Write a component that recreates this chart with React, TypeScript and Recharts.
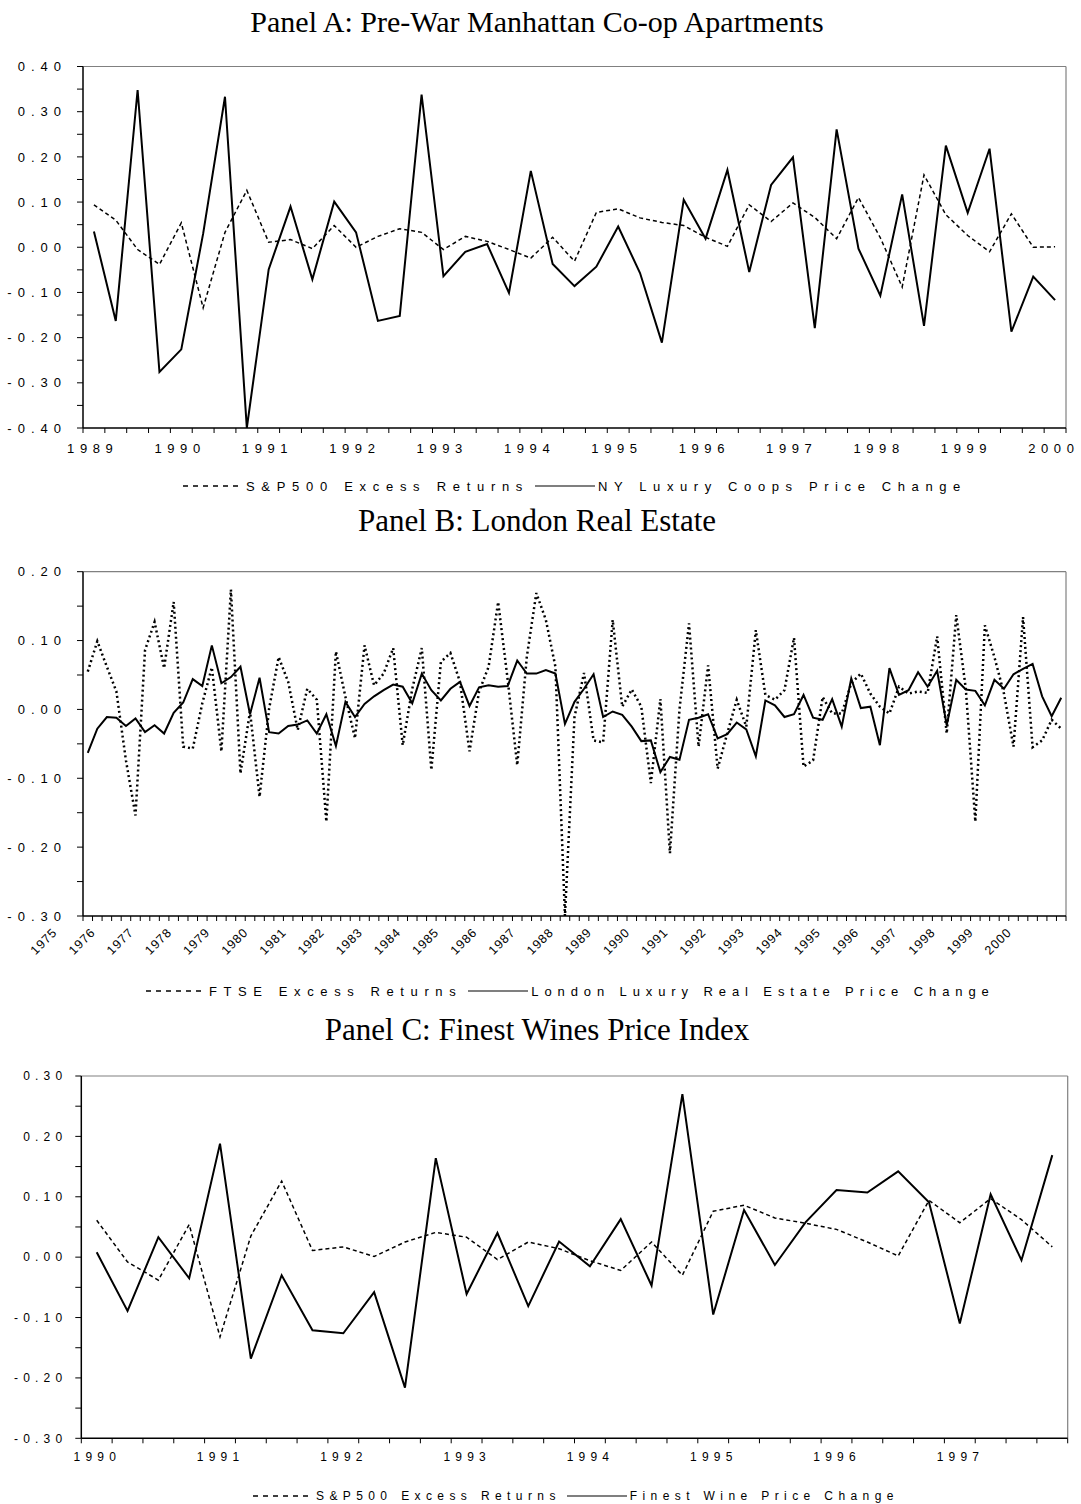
import React from 'react';
import { LineChart, Line, XAxis, YAxis, ReferenceLine } from 'recharts';

const SANS = 'Arial, "Liberation Sans", Helvetica, sans-serif';
const SERIF = '"Times New Roman", "Liberation Serif", serif';

// Panel A: quarterly, 1989 Q1 .. 2000 Q1
const coopYears = ['1989', '1990', '1991', '1992', '1993', '1994', '1995', '1996', '1997', '1998', '1999', '2000'];
const coopSP500 = [
  0.094, 0.06, -0.005, -0.038, 0.054, -0.134, 0.033, 0.126, 0.011, 0.017, -0.003, 0.048,
  0.0, 0.024, 0.041, 0.033, -0.005, 0.024, 0.013, -0.005, -0.024, 0.022, -0.031, 0.077,
  0.085, 0.065, 0.055, 0.048, 0.022, 0.002, 0.094, 0.057, 0.098, 0.066, 0.019, 0.11,
  0.021, -0.088, 0.16, 0.072, 0.026, -0.01, 0.074, 0.0, 0.001,
];
const coopPrice = [
  0.035, -0.163, 0.348, -0.276, -0.226, 0.03, 0.333, -0.4, -0.049, 0.09, -0.071, 0.101,
  0.033, -0.163, -0.152, 0.338, -0.064, -0.01, 0.007, -0.101, 0.169, -0.037, -0.086, -0.043,
  0.046, -0.057, -0.211, 0.105, 0.019, 0.171, -0.055, 0.138, 0.199, -0.179, 0.261, -0.003,
  -0.107, 0.117, -0.174, 0.225, 0.076, 0.218, -0.187, -0.065, -0.117,
];
const coopYTicks = [-0.4, -0.35, -0.3, -0.25, -0.2, -0.15, -0.1, -0.05, 0, 0.05, 0.1, 0.15, 0.2, 0.25, 0.3, 0.35, 0.4];

// Panel B: quarterly, 1975 Q1 .. 2000 Q3
const londonYears = [
  '1975', '1976', '1977', '1978', '1979', '1980', '1981', '1982', '1983', '1984', '1985', '1986', '1987',
  '1988', '1989', '1990', '1991', '1992', '1993', '1994', '1995', '1996', '1997', '1998', '1999', '2000',
];
const londonFTSE = [
  0.055, 0.099, 0.062, 0.026, -0.074, -0.154, 0.086, 0.127, 0.06, 0.156, -0.054, -0.057,
  0.009, 0.061, -0.061, 0.174, -0.093, -0.003, -0.127, 0.001, 0.076, 0.04, -0.03, 0.03,
  0.014, -0.163, 0.084, 0.018, -0.042, 0.093, 0.035, 0.052, 0.089, -0.052, 0.03, 0.089,
  -0.088, 0.069, 0.082, 0.04, -0.061, 0.026, 0.062, 0.156, 0.043, -0.081, 0.076, 0.169,
  0.13, 0.062, -0.3, -0.011, 0.053, -0.045, -0.048, 0.13, 0.004, 0.029, 0.004, -0.107,
  0.015, -0.209, 0.0, 0.125, -0.054, 0.064, -0.086, -0.035, 0.014, -0.025, 0.115, 0.021,
  0.014, 0.028, 0.104, -0.083, -0.074, 0.018, -0.006, -0.006, 0.038, 0.052, 0.023, 0.004,
  -0.006, 0.033, 0.023, 0.026, 0.024, 0.106, -0.035, 0.137, 0.03, -0.163, 0.122, 0.076,
  0.023, -0.054, 0.134, -0.055, -0.045, -0.015, -0.028,
];
const londonPrice = [
  -0.063, -0.028, -0.011, -0.012, -0.024, -0.013, -0.033, -0.023, -0.035, -0.005, 0.01, 0.044,
  0.034, 0.093, 0.038, 0.047, 0.062, -0.007, 0.046, -0.033, -0.035, -0.024, -0.022, -0.016,
  -0.035, -0.007, -0.053, 0.011, -0.011, 0.008, 0.019, 0.028, 0.036, 0.033, 0.009, 0.052,
  0.028, 0.013, 0.03, 0.04, 0.005, 0.032, 0.035, 0.033, 0.034, 0.071, 0.052, 0.052,
  0.057, 0.052, -0.021, 0.011, 0.03, 0.051, -0.011, -0.003, -0.008, -0.025, -0.046, -0.045,
  -0.091, -0.069, -0.073, -0.015, -0.012, -0.007, -0.042, -0.036, -0.019, -0.029, -0.068, 0.013,
  0.006, -0.011, -0.007, 0.021, -0.012, -0.015, 0.015, -0.025, 0.045, 0.002, 0.004, -0.052,
  0.06, 0.021, 0.028, 0.054, 0.033, 0.056, -0.023, 0.043, 0.029, 0.027, 0.006, 0.043,
  0.03, 0.051, 0.059, 0.066, 0.019, -0.01, 0.017,
];
const londonYTicks = [-0.3, -0.25, -0.2, -0.15, -0.1, -0.05, 0, 0.05, 0.1, 0.15, 0.2];

// Panel C: quarterly, 1990 Q1 .. 1997 Q4
const wineYears = ['1990', '1991', '1992', '1993', '1994', '1995', '1996', '1997'];
const wineSP500 = [
  0.061, -0.008, -0.038, 0.054, -0.132, 0.035, 0.126, 0.011, 0.017, 0.001, 0.025, 0.041,
  0.033, -0.004, 0.025, 0.014, -0.006, -0.022, 0.025, -0.03, 0.076, 0.086, 0.065, 0.056,
  0.046, 0.025, 0.002, 0.094, 0.057, 0.097, 0.062, 0.017,
];
const winePrice = [
  0.008, -0.089, 0.033, -0.035, 0.188, -0.168, -0.03, -0.121, -0.126, -0.058, -0.216, 0.164,
  -0.061, 0.04, -0.081, 0.026, -0.015, 0.063, -0.047, 0.27, -0.095, 0.078, -0.013, 0.058,
  0.111, 0.107, 0.142, 0.091, -0.11, 0.104, -0.005, 0.169,
];
const wineYTicks = [-0.3, -0.25, -0.2, -0.15, -0.1, -0.05, 0, 0.05, 0.1, 0.15, 0.2, 0.25, 0.3];

function buildRows(years: string[], a: number[], b: number[]) {
  return a.map((v, i) => ({ i, label: i % 4 === 0 ? years[i / 4] : '', a: v, b: b[i] }));
}

const YTick = (props: any) => {
  const { x, y, payload, fs, ls, dx } = props;
  const v = payload.value;
  if (Math.round(v * 100) % 10 !== 0) return <g />;
  return (
    <text x={x + dx} y={y} dy={fs * 0.36} textAnchor="end" fontSize={fs} letterSpacing={ls} fontFamily={SANS} fill="#000">
      {v.toFixed(2)}
    </text>
  );
};

function flatXTick(rows: any[], band: number, fs: number, ls: number, dy: number, shift: number) {
  return (props: any) => {
    const { x, y, payload } = props;
    const row = rows[Math.round(payload.value + 0.5)];
    if (!row || !row.label) return <g />;
    return (
      <text x={x + band / 2 + ls / 2 + shift} y={y} dy={dy} textAnchor="middle" fontSize={fs} letterSpacing={ls} fontFamily={SANS} fill="#000">
        {row.label}
      </text>
    );
  };
}

function slantXTick(rows: any[]) {
  return (props: any) => {
    const { x, y, payload } = props;
    const row = rows[Math.round(payload.value + 0.5)];
    if (!row || !row.label) return <g />;
    return (
      <text transform={`translate(${x - 25},${y + 10}) rotate(-45)`} textAnchor="end" fontSize={12.5} letterSpacing={1} fontFamily={SANS} fill="#000">
        {row.label}
      </text>
    );
  };
}

type PanelProps = {
  top: number;
  height: number;
  plotLeft: number;
  plotRight: number;
  plotTop: number;
  plotBottom: number;
  yDomain: [number, number];
  yTicks: number[];
  rows: any[];
  xTick: any;
  fs: number;
  ls: number;
  yDx: number;
  dashA: string;
  widthA: number;
};

function Panel(p: PanelProps) {
  const n = p.rows.length;
  const bounds = p.rows.map((r) => r.i - 0.5).concat([n - 0.5]);
  return (
    <div style={{ position: 'absolute', top: p.top, left: 0 }}>
      <LineChart
        width={1081}
        height={p.height}
        data={p.rows}
        margin={{ top: p.plotTop, right: 1081 - p.plotRight, bottom: 0, left: 0 }}
      >
        <XAxis
          type="number"
          dataKey="i"
          domain={[-0.5, n - 0.5]}
          ticks={bounds}
          interval={0}
          height={p.height - p.plotBottom}
          tickSize={5}
          tick={p.xTick}
          axisLine={{ stroke: '#000', strokeWidth: 1.5 }}
          tickLine={{ stroke: '#000' }}
          allowDataOverflow
        />
        <YAxis
          type="number"
          domain={p.yDomain}
          ticks={p.yTicks}
          interval={0}
          width={p.plotLeft}
          tickSize={6}
          tick={(tp: any) => <YTick {...tp} fs={p.fs} ls={p.ls} dx={p.yDx} />}
          axisLine={{ stroke: '#000', strokeWidth: 1.5 }}
          tickLine={{ stroke: '#000' }}
          allowDataOverflow
        />
        <ReferenceLine y={p.yDomain[1]} stroke="#808080" strokeWidth={1.2} />
        <ReferenceLine x={n - 0.5} stroke="#808080" strokeWidth={1.2} />
        <Line type="linear" dataKey="a" stroke="#000" strokeWidth={p.widthA} strokeDasharray={p.dashA} dot={false} isAnimationActive={false} />
        <Line type="linear" dataKey="b" stroke="#000" strokeWidth={2} dot={false} isAnimationActive={false} />
      </LineChart>
    </div>
  );
}

function Title({ top, text, size }: { top: number; text: string; size: number }) {
  return (
    <div style={{ position: 'absolute', top, left: 0, width: 1074, textAlign: 'center', fontFamily: SERIF, fontSize: size, lineHeight: '34px', color: '#000' }}>
      {text}
    </div>
  );
}

type LegendItem = { name: string; dash?: string; w: number; ls: number };

function LegendRow({ top, left, fs, items }: { top: number; left: number; fs: number; items: LegendItem[] }) {
  return (
    <div style={{ position: 'absolute', top, left, height: 14, display: 'flex', alignItems: 'center', fontFamily: SANS, fontSize: fs, whiteSpace: 'nowrap', color: '#000' }}>
      {items.map((it, k) => (
        <React.Fragment key={it.name}>
          <svg width={60} height={10} style={{ marginLeft: k === 0 ? 0 : 6 }}>
            <line x1={0} y1={5} x2={60} y2={5} stroke="#000" strokeWidth={it.w} strokeDasharray={it.dash} />
          </svg>
          <span style={{ marginLeft: 3, letterSpacing: it.ls }}>{it.name}</span>
        </React.Fragment>
      ))}
    </div>
  );
}

export default function App() {
  const coopRows = buildRows(coopYears, coopSP500, coopPrice);
  const londonRows = buildRows(londonYears, londonFTSE, londonPrice);
  const wineRows = buildRows(wineYears, wineSP500, winePrice);

  return (
    <div style={{ position: 'absolute', left: 0, top: 0, width: 1081, height: 1504, background: '#fff', overflow: 'hidden' }}>
      <Title top={5} size={30} text="Panel A: Pre-War Manhattan Co-op Apartments" />
      <Panel
        top={0}
        height={460}
        plotLeft={83}
        plotRight={1066}
        plotTop={66.5}
        plotBottom={428}
        yDomain={[-0.4, 0.4]}
        yTicks={coopYTicks}
        rows={coopRows}
        xTick={flatXTick(coopRows, 983 / 45, 13, 5.6, 18, -4)}
        fs={13}
        ls={6}
        yDx={-8}
        dashA="4 3"
        widthA={1.5}
      />
      <LegendRow
        top={479}
        left={183}
        fs={13}
        items={[
          { name: 'S&P500 Excess Returns', dash: '5 5', w: 1.5, ls: 6.7 },
          { name: 'NY Luxury Coops Price Change', w: 1.2, ls: 6.6 },
        ]}
      />

      <Title top={504} size={31} text="Panel B: London Real Estate" />
      <Panel
        top={540}
        height={420}
        plotLeft={83}
        plotRight={1066}
        plotTop={31.7}
        plotBottom={376}
        yDomain={[-0.3, 0.2]}
        yTicks={londonYTicks}
        rows={londonRows}
        xTick={slantXTick(londonRows)}
        fs={13}
        ls={6}
        yDx={-8}
        dashA="2 3"
        widthA={2.5}
      />
      <LegendRow
        top={984}
        left={146}
        fs={13}
        items={[
          { name: 'FTSE Excess Returns', dash: '5 5', w: 1.5, ls: 6.6 },
          { name: 'London Luxury Real Estate Price Change', w: 1.2, ls: 5.9 },
        ]}
      />

      <Title top={1013} size={31} text="Panel C: Finest Wines Price Index" />
      <Panel
        top={1050}
        height={420}
        plotLeft={81.3}
        plotRight={1067.7}
        plotTop={26}
        plotBottom={388.3}
        yDomain={[-0.3, 0.3]}
        yTicks={wineYTicks}
        rows={wineRows}
        xTick={flatXTick(wineRows, 986.4 / 32, 12, 5.2, 16, -2)}
        fs={12}
        ls={5.2}
        yDx={-6}
        dashA="4 3"
        widthA={1.5}
      />
      <LegendRow
        top={1489}
        left={253}
        fs={12}
        items={[
          { name: 'S&P500 Excess Returns', dash: '5 5', w: 1.5, ls: 5.4 },
          { name: 'Finest Wine Price Change', w: 1.2, ls: 5.4 },
        ]}
      />
    </div>
  );
}
